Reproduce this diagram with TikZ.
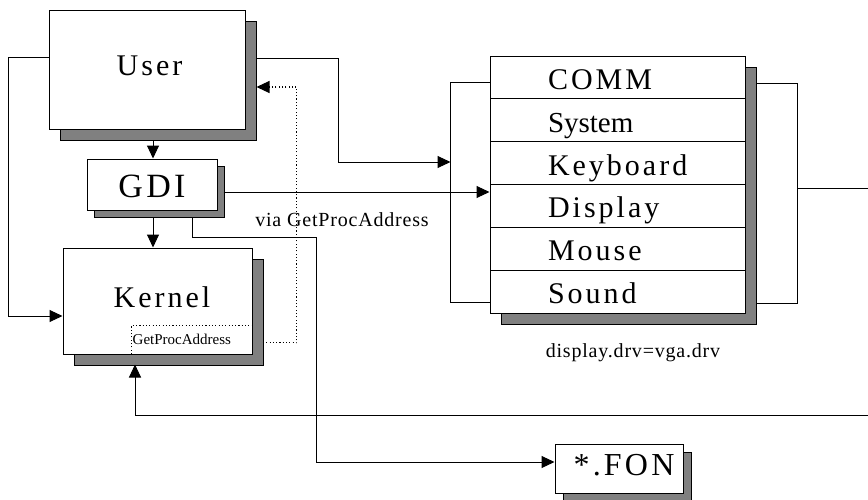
\documentclass[tikz,border=0pt]{standalone}
\usepackage{fontspec}
\setmainfont{Liberation Serif}
\newfontfamily\wide[LetterSpace=10]{Liberation Serif}
\newfontfamily\semiwide[LetterSpace=4]{Liberation Serif}
\usetikzlibrary{arrows.meta,calc,shadows}

\tikzset{
  box/.style={draw, line width=1pt, fill=white, rectangle, inner sep=0pt},
  shad/.style={drop shadow={shadow xshift=#1, shadow yshift=-#1,
      fill=black!50, draw=black, line width=0.8pt, opacity=1}},
  big/.style={font=\wide\fontsize{30}{36}\selectfont},
  row/.style={draw, line width=1pt, fill=white, minimum width=255pt,
      minimum height=42.83pt, inner sep=0pt, text height=24pt, text depth=0pt},
  conn/.style={line width=1pt},
  tip/.style={-{Triangle[length=13pt,width=12pt]}},
  arr/.style={conn, tip},
  dotline/.style={line width=1.1pt, dash pattern=on 1.1pt off 2.2pt},
}

\begin{document}
\begin{tikzpicture}[x=1pt,y=-1pt]
\useasboundingbox (0,0) rectangle (868,499);

% module boxes
\node[box, shad=11pt, big, minimum width=196pt, minimum height=119pt,
      text height=11pt, text depth=0pt] (user) at (147,69.5) {\hspace*{5pt}User};
\node[box, shad=7pt, font=\wide\fontsize{34}{40}\selectfont, minimum width=130pt,
      minimum height=51pt, text height=25pt, text depth=0pt] (gdi) at (152,184.5) {GDI};
\node[box, shad=11pt, big, minimum width=189pt, minimum height=106pt,
      text height=12pt, text depth=0pt] (kernel) at (157.5,301) {\hspace*{9pt}Kernel};

% GetProcAddress export area inside the kernel
\node[anchor=north west, minimum width=120pt, minimum height=28pt, inner sep=0pt,
      font=\fontsize{15}{18}\selectfont] (gpa) at ($(kernel.north west)+(69,78)$)
      {\makebox[118pt][l]{GetProcAddress}};
\draw[dotline] (gpa.south west) -- (gpa.north west) -- (gpa.north east);

% driver stack
\node[box, shad=11pt, minimum width=255pt, minimum height=257pt] (stack) at (617.5,184.5) {};
\node[row, big] (comm) at (617.5,77.42) {\makebox[139pt][l]{COMM}};
\node[row, font=\fontsize{29}{34}\selectfont] (system) at (617.5,120.25) {\makebox[139pt][l]{System}};
\node[row, big] (keyboard) at (617.5,163.08) {\makebox[139pt][l]{Keyboard}};
\node[row, big] (display) at (617.5,205.92) {\makebox[139pt][l]{Display}};
\node[row, big] (mouse) at (617.5,248.75) {\makebox[139pt][l]{Mouse}};
\node[row, big] (sound) at (617.5,291.58) {\makebox[139pt][l]{Sound}};

% font file
\node[box, shad=8pt, font=\wide\fontsize{32}{38}\selectfont, minimum width=128pt,
      minimum height=49pt, text height=13pt, text depth=0pt] (fon) at (619,468.5) {\hspace*{10pt}*.FON};

% labels
\node[font=\semiwide\fontsize{20}{24}\selectfont] (via) at (342,220) {via GetProcAddress};
\node[font=\semiwide\fontsize{20}{24}\selectfont] (drv) at (633,353) {display.drv=vga.drv};

% connectors
\draw[arr] ($(user.south)+(6,11)$) coordinate (u1) -- (u1 |- gdi.north);
\draw[arr] ($(gdi.south)+(1,7)$) coordinate (g0) -- (g0 |- kernel.north);
\draw[arr] ($(user.north west)+(0,48)$) -- ++(-40,0) |- ($(kernel.west)+(0,15)$);

\draw[conn] ($(comm.west)+(0,4.6)$) -- ++(-39,0) coordinate (lb) |- ($(sound.west)+(0,11.4)$);
\draw[arr] ($(user.east)+(11,-11.5)$) -- ++(82,0) -- ++(0,104) coordinate (u4) -- (u4 -| lb);
\draw[arr] ($(gdi.east)+(6,7.5)$) coordinate (g1) -- (g1 -| stack.west);
\draw[arr] ($(gdi.south)+(40,7)$) -- ++(0,20) -- ++(124,0) |- ($(fon.west)+(0,-6.5)$);

\draw[conn] ($(comm.east)+(11,5.6)$) -- ++(41,0) coordinate (rb) |- ($(sound.east)+(11,12.4)$);
\coordinate (edge1) at (868,188);
\draw[conn] (rb |- edge1) -- (edge1);
\coordinate (edge2) at (868,415);
\draw[arr] (edge2) -| ($(kernel.south)+(-22.5,10)$);

\draw[dotline, tip] ($(gpa.east)+(11,3)$) -- ++(34,0) |- ($(user.east)+(11,17.5)$);
\end{tikzpicture}
\end{document}
